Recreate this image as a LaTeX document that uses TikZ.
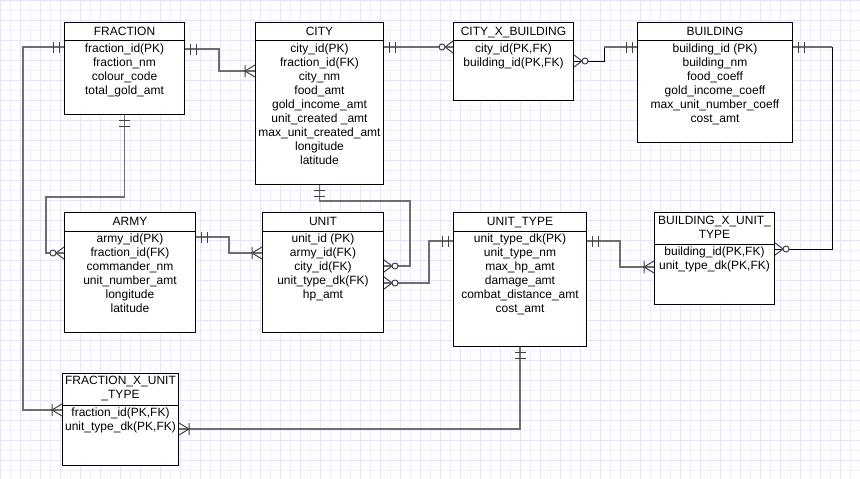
\documentclass[tikz,border=0pt]{standalone}
\usepackage{fontspec}
\setmainfont{Liberation Sans}
\usepackage{xcolor}
\usetikzlibrary{calc}

\definecolor{gridminor}{RGB}{241,241,252}
\definecolor{gridmajor}{RGB}{228,228,251}
\definecolor{linkgray}{RGB}{110,110,110}

\tikzset{
  entity/.style={draw=black, line width=1pt, fill=white, anchor=north west, inner sep=0pt},
  title/.style={font=\fontsize{12}{14}\selectfont, inner sep=0pt, text height=9pt, text depth=0.5pt},
  title2/.style={font=\fontsize{12}{14}\selectfont, inner sep=0pt, align=center},
  attr/.style={font=\fontsize{12}{14}\selectfont, inner sep=0pt, text height=9pt, text depth=3pt},
  conn/.style={draw=linkgray, line width=1.8pt},
  thinconn/.style={draw=black, line width=1pt},
  pics/onlyone/.style={code={\draw[linkgray!60!black, line width=1pt] (5,-5.5) -- (5,5.5) (11,-5.5) -- (11,5.5);}},
  pics/onemany/.style={code={\draw[linkgray!60!black, line width=1pt] (0,-6) -- (10,0) -- (0,6) (10,-6) -- (10,6);}},
  pics/zeromany/.style={code={\draw[linkgray!60!black, line width=1pt] (0,-6) -- (8,0) -- (0,6);
    \draw[linkgray!60!black, line width=1pt, fill=white] (11,0) circle (3pt);}}
}

\begin{document}
\begin{tikzpicture}[x=1pt,y=-1pt]
\useasboundingbox (0,0) rectangle (860,479);
\fill[white] (0,0) rectangle (860,479);
% grid
\foreach \x in {10,30,...,850} \draw[gridminor, line width=1pt] (\x,0) -- (\x,479);
\foreach \y in {10,30,...,470} \draw[gridminor, line width=1pt] (0,\y) -- (860,\y);
\foreach \x in {0,20,...,860} \draw[gridmajor, line width=1pt] (\x,0) -- (\x,479);
\foreach \y in {0,20,...,460} \draw[gridmajor, line width=1pt] (0,\y) -- (860,\y);

% tables
\node[entity, minimum width=120pt, minimum height=92pt] (frac) at (64,22) {};
\node[entity, minimum width=128pt, minimum height=162pt] (city) at (255,22) {};
\node[entity, minimum width=120pt, minimum height=78pt] (cxb) at (453,22) {};
\node[entity, minimum width=155pt, minimum height=120pt] (bld) at (637,22) {};
\node[entity, minimum width=131pt, minimum height=120pt] (army) at (64,212) {};
\node[entity, minimum width=121pt, minimum height=120pt] (unit) at (262,212) {};
\node[entity, minimum width=133pt, minimum height=134pt] (ut) at (453,212) {};
\node[entity, minimum width=120pt, minimum height=92pt] (bxut) at (654,212) {};
\node[entity, minimum width=116pt, minimum height=92pt] (fxut) at (62,373) {};

% header lines
\foreach \e/\h in {frac/18, city/18, cxb/18, bld/18, army/19, unit/19, ut/19, bxut/32, fxut/32}
  \draw[line width=1pt] ([yshift=-\h pt]\e.north west) -- ([yshift=-\h pt]\e.north east);

% titles
\node[title] (frac-t) at ([yshift=-9pt]frac.north) {FRACTION};
\node[title] (city-t) at ([yshift=-9pt]city.north) {CITY};
\node[title] (cxb-t) at ([yshift=-9pt]cxb.north) {CITY\_X\_BUILDING};
\node[title] (bld-t) at ([yshift=-9pt]bld.north) {BUILDING};
\node[title] (army-t) at ([yshift=-9.5pt]army.north) {ARMY};
\node[title] (unit-t) at ([yshift=-9.5pt]unit.north) {UNIT};
\node[title] (ut-t) at ([yshift=-9.5pt]ut.north) {UNIT\_TYPE};
\node[title2] (bxut-t) at ([yshift=-15.5pt]bxut.north) {BUILDING\_X\_UNIT\_\\TYPE};
\node[title2] (fxut-t) at ([yshift=-15.5pt]fxut.north) {FRACTION\_X\_UNIT\\\_TYPE};

% columns
\foreach \a [count=\i] in {fraction\_id(PK), fraction\_nm, colour\_code, total\_gold\_amt}
  \node[attr] (frac-\i) at ([yshift={-13pt-14pt*\i}]frac.north) {\a};
\foreach \a [count=\i] in {city\_id(PK), fraction\_id(FK), city\_nm, food\_amt, gold\_income\_amt,
    unit\_created \_amt, max\_unit\_created\_amt, longitude, latitude}
  \node[attr] (city-\i) at ([yshift={-13pt-14pt*\i}]city.north) {\a};
\foreach \a [count=\i] in {{city\_id(PK,FK)}, {building\_id(PK,FK)}}
  \node[attr] (cxb-\i) at ([yshift={-13pt-14pt*\i}]cxb.north) {\a};
\foreach \a [count=\i] in {building\_id (PK), building\_nm, food\_coeff, gold\_income\_coeff,
    max\_unit\_number\_coeff, cost\_amt}
  \node[attr] (bld-\i) at ([yshift={-13pt-14pt*\i}]bld.north) {\a};
\foreach \a [count=\i] in {army\_id(PK), fraction\_id(FK), commander\_nm, unit\_number\_amt, longitude, latitude}
  \node[attr] (army-\i) at ([yshift={-13pt-14pt*\i}]army.north) {\a};
\foreach \a [count=\i] in {unit\_id (PK), army\_id(FK), city\_id(FK), unit\_type\_dk(FK), hp\_amt}
  \node[attr] (unit-\i) at ([yshift={-13pt-14pt*\i}]unit.north) {\a};
\foreach \a [count=\i] in {unit\_type\_dk(PK), unit\_type\_nm, max\_hp\_amt, damage\_amt,
    combat\_distance\_amt, cost\_amt}
  \node[attr] (ut-\i) at ([yshift={-13pt-14pt*\i}]ut.north) {\a};
\foreach \a [count=\i] in {{building\_id(PK,FK)}, {unit\_type\_dk(PK,FK)}}
  \node[attr] (bxut-\i) at ([yshift={-26.5pt-14pt*\i}]bxut.north) {\a};
\foreach \a [count=\i] in {{fraction\_id(PK,FK)}, {unit\_type\_dk(PK,FK)}}
  \node[attr] (fxut-\i) at ([yshift={-26.5pt-14pt*\i}]fxut.north) {\a};

% relations
\draw[conn] ([yshift=-25pt]frac.north west) -| (23,410) -- ([yshift=-37pt]fxut.north west);
\draw[conn] ([yshift=-27pt]frac.north east) -| (219,71) -- ([yshift=-49pt]city.north west);
\draw[conn] (frac.south) |- (46,197) |- ([yshift=-41pt]army.north west);
\draw[conn] ([yshift=-25pt]city.north east) -- ([yshift=-25pt]cxb.north west);
\draw[thinconn] ([yshift=-39pt]cxb.north east) -| (604,47) -- ([yshift=-25pt]bld.north west);
\draw[conn] (604,47) -- ([yshift=-25pt]bld.north west);
\draw[thinconn] ([yshift=-25pt]bld.north east) -| (832,249) -- ([yshift=-37pt]bxut.north east);
\draw[conn] ([yshift=-25pt]bld.north east) -- (832,47);
\draw[conn] (city.south) |- (410,201) |- ([yshift=-54pt]unit.north east);
\draw[conn] ([yshift=-29pt]ut.north west) -| (429,283) -- ([yshift=-71pt]unit.north east);
\draw[conn] ([yshift=-25pt]army.north east) -| (229,253) -- ([yshift=-41pt]unit.north west);
\draw[conn] ([yshift=-29pt]ut.north east) -| (620,267) -- ([yshift=-55pt]bxut.north west);
\draw[conn] (ut.south) |- ([yshift=-56pt]fxut.north east);

% cardinality marks
\pic[rotate=180] at ([yshift=-25pt]frac.north west) {onlyone};
\pic[rotate=180] at ([yshift=-37pt]fxut.north west) {onemany};
\pic at ([yshift=-27pt]frac.north east) {onlyone};
\pic[rotate=180] at ([yshift=-49pt]city.north west) {onemany};
\pic[rotate=-90] at (frac.south) {onlyone};
\pic[rotate=180] at ([yshift=-41pt]army.north west) {zeromany};
\pic at ([yshift=-25pt]city.north east) {onlyone};
\pic[rotate=180] at ([yshift=-25pt]cxb.north west) {zeromany};
\pic at ([yshift=-39pt]cxb.north east) {zeromany};
\pic[rotate=180] at ([yshift=-25pt]bld.north west) {onlyone};
\pic at ([yshift=-25pt]bld.north east) {onlyone};
\pic at ([yshift=-37pt]bxut.north east) {zeromany};
\pic[rotate=-90] at (city.south) {onlyone};
\pic at ([yshift=-54pt]unit.north east) {zeromany};
\pic[rotate=180] at ([yshift=-29pt]ut.north west) {onlyone};
\pic at ([yshift=-71pt]unit.north east) {zeromany};
\pic at ([yshift=-25pt]army.north east) {onlyone};
\pic[rotate=180] at ([yshift=-41pt]unit.north west) {onemany};
\pic at ([yshift=-29pt]ut.north east) {onlyone};
\pic[rotate=180] at ([yshift=-55pt]bxut.north west) {onemany};
\pic[rotate=-90] at (ut.south) {onlyone};
\pic at ([yshift=-56pt]fxut.north east) {onemany};
\end{tikzpicture}
\end{document}
